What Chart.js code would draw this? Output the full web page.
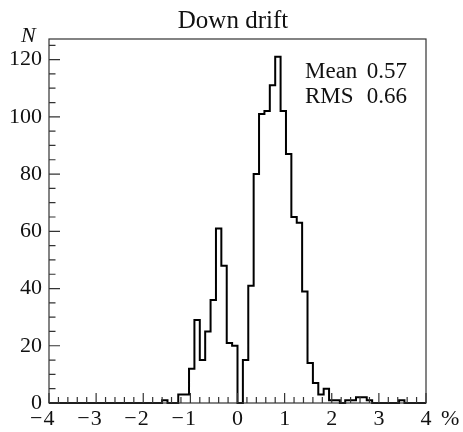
<!DOCTYPE html>
<html>
<head>
<meta charset="utf-8">
<script src="https://cdn.jsdelivr.net/npm/chart.js@4/dist/chart.umd.min.js"></script>
<style>
  html, body { margin: 0; padding: 0; background: #fff; }
  canvas { display: block; }
</style>
</head>
<body>
<canvas id="c" width="463" height="432"></canvas>
<script>
// Histogram: 70 equal bins on [-4, 4]
const binLow = -4;
const binHigh = 4;
const counts = [
  0,0,0,0,0,0,0,0,0,0,
  0,0,0,0,0,0,0,0,0,0,
  0,1,0,0,3,3,12,29,15,25,
  36,61,48,21,20,0,15,41,80,101,
  102,111,121,102,87,65,63,39,14,7,
  3,5,1,1,0,1,1,2,2,1,
  0,0,0,0,0,1,0,0,0,0
];
const xTickValues = [-4,-3,-2,-1,0,1,2,3,4];
const xTickLabels = ['−4','−3','−2','−1','0','1','2','3','4'];
const yTickValues = [0,20,40,60,80,100,120];
const yTickLabels = ['0','20','40','60','80','100','120'];
const title = 'Down drift';
const statNames = ['Mean', 'RMS'];
const statValues = ['0.57', '0.66'];
const xUnit = '%';
const yUnit = 'N';

const nBins = counts.length;
const binW = (binHigh - binLow) / nBins;
const points = counts.map((c, k) => ({ x: binLow + k * binW, y: c }));
points.push({ x: binHigh, y: counts[nBins - 1] });

const FONT = "'Liberation Serif', 'Times New Roman', serif";
const INK = '#111';

const framePlugin = {
  id: 'frame',
  afterDatasetsDraw(chart) {
    const ctx = chart.ctx;
    const xs = chart.scales.x, ys = chart.scales.y;
    const L = xs.getPixelForValue(binLow), R = xs.getPixelForValue(binHigh);
    const B = ys.getPixelForValue(0), T = chart.chartArea.top;
    ctx.save();
    ctx.strokeStyle = '#333';
    ctx.lineWidth = 1.2;
    ctx.strokeRect(L, T, R - L, B - T);
    // x ticks (inward)
    ctx.beginPath();
    for (let v = -4; v <= 4.0001; v += 0.2) {
      const vv = Math.round(v * 10) / 10;
      const px = xs.getPixelForValue(vv);
      const major = Math.abs(vv - Math.round(vv)) < 1e-6;
      const len = major ? 10 : 6;
      ctx.moveTo(px, B);
      ctx.lineTo(px, B - len);
    }
    // y ticks (inward)
    for (let v = 0; v <= 125; v += 5) {
      const py = ys.getPixelForValue(v);
      const len = (v % 20 === 0) ? 11 : 6.5;
      ctx.moveTo(L, py);
      ctx.lineTo(L + len, py);
    }
    ctx.stroke();

    // texts
    ctx.fillStyle = INK;
    ctx.font = '25px ' + FONT;
    ctx.textBaseline = 'alphabetic';
    ctx.textAlign = 'center';
    ctx.fillText(title, 233, 28);

    ctx.font = '23px ' + FONT;
    ctx.textAlign = 'left';
    ctx.fillText(statNames[0], 305, 78);
    ctx.fillText(statNames[1], 305, 103);
    ctx.textAlign = 'right';
    ctx.fillText(statValues[0], 407, 78);
    ctx.fillText(statValues[1], 407, 103);

    // x tick labels: digit centred on tick, minus hanging left
    ctx.font = '22px ' + FONT;
    xTickValues.forEach((v, i) => {
      const px = xs.getPixelForValue(v);
      const lab = xTickLabels[i];
      const digits = lab.replace('−', '');
      ctx.textAlign = 'center';
      ctx.fillText(digits, px, 425);
      if (lab.startsWith('−')) {
        const w = ctx.measureText(digits).width;
        ctx.textAlign = 'right';
        ctx.fillText('−', px - w / 2 - 1, 425);
      }
    });
    ctx.textAlign = 'left';
    ctx.fillText(xUnit, 441, 425);

    ctx.font = 'italic 22px ' + FONT;
    ctx.fillText(yUnit, 21, 42);
    ctx.restore();
  }
};

new Chart(document.getElementById('c'), {
  type: 'line',
  data: {
    datasets: [{
      data: points,
      stepped: 'before',
      borderColor: '#000',
      borderWidth: 2,
      pointRadius: 0,
      fill: false,
      tension: 0,
      clip: 6
    }]
  },
  options: {
    responsive: false,
    animation: false,
    events: [],
    layout: { padding: { top: 39, right: 37, left: 0, bottom: 0 } },
    plugins: { legend: { display: false }, tooltip: { enabled: false }, title: { display: false } },
    scales: {
      x: {
        type: 'linear',
        min: binLow,
        max: binHigh,
        grid: { display: false, drawTicks: false },
        border: { display: false },
        ticks: { display: false },
        afterFit(scale) { scale.height = 29; }
      },
      y: {
        type: 'linear',
        min: 0,
        max: 127.2,
        grid: { display: false, drawTicks: false },
        border: { display: false },
        afterBuildTicks(scale) { scale.ticks = yTickValues.map(v => ({ value: v })); },
        ticks: {
          padding: 7,
          color: INK,
          font: { family: FONT, size: 22 },
          callback: (v) => { const i = yTickValues.indexOf(v); return i >= 0 ? yTickLabels[i] : ''; }
        },
        afterFit(scale) { scale.width = 49; }
      }
    }
  },
  plugins: [framePlugin]
});
</script>
</body>
</html>
